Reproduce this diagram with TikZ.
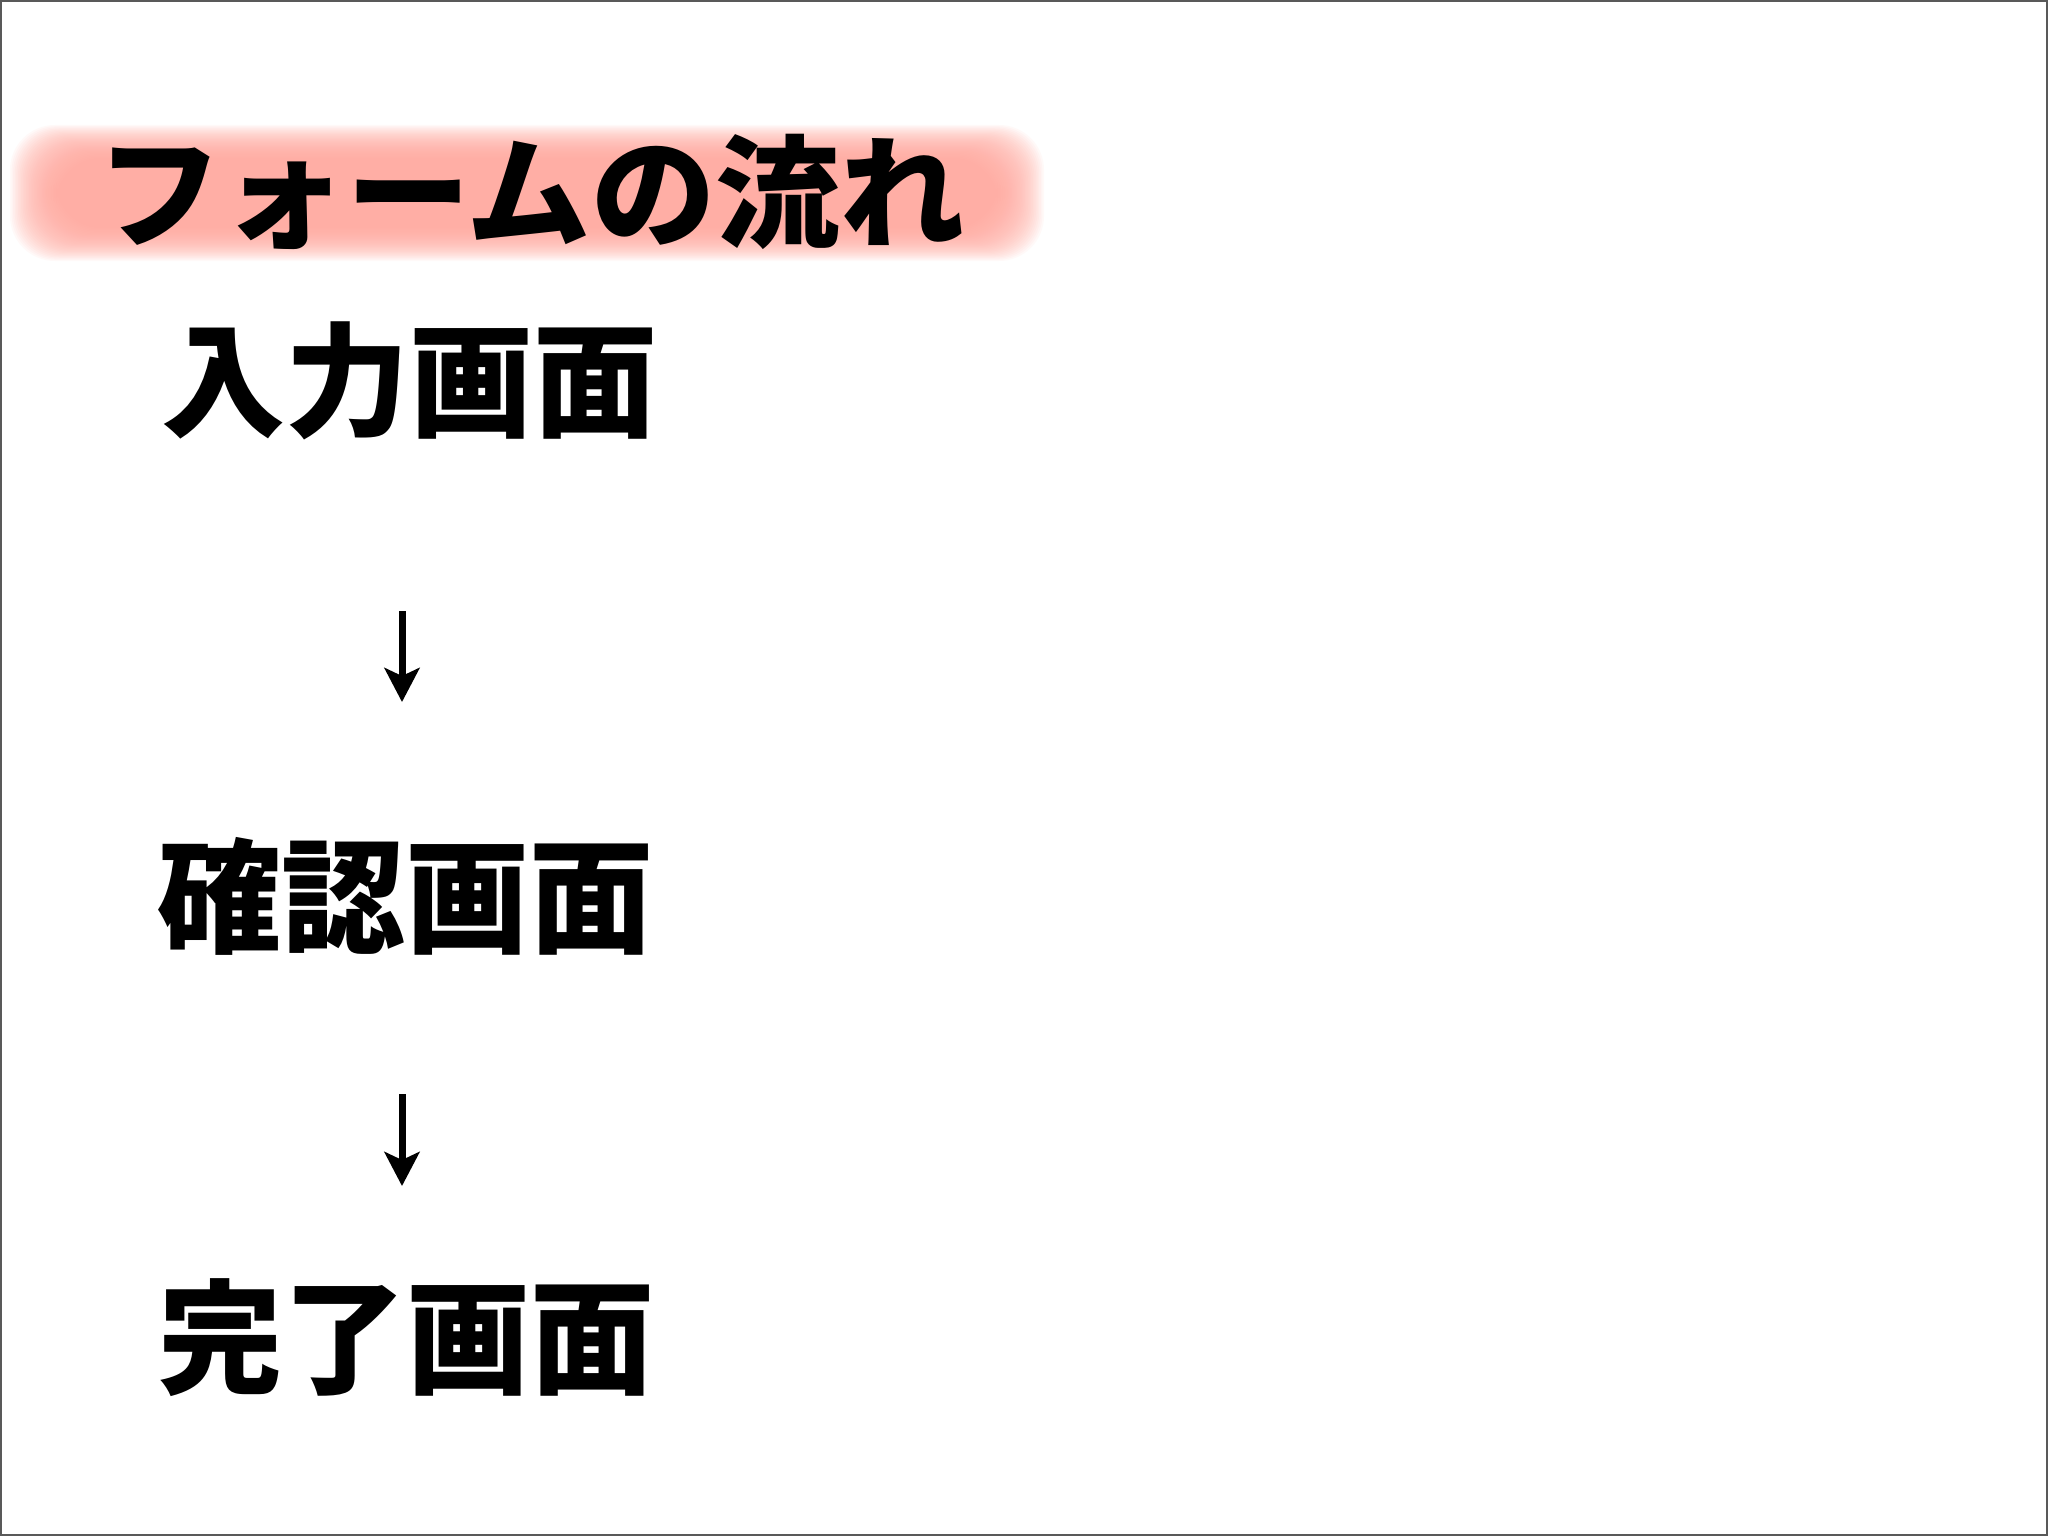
\documentclass[tikz,border=0pt]{standalone}
\usepackage{fontspec}
\newfontfamily\cjk{Noto Sans CJK JP Black}
\usetikzlibrary{arrows.meta}
\definecolor{glow}{RGB}{255,168,158}
\begin{document}
\begin{tikzpicture}[x=1pt,y=-1pt,
  screen/.style={font=\cjk\fontsize{124}{124}\selectfont, inner sep=0pt, anchor=center},
  titletext/.style={font=\cjk\fontsize{122}{122}\selectfont, inner sep=0pt, anchor=center},
  flow/.style={draw=black, line width=7pt, -{Stealth[length=34pt,width=35pt,inset=8pt]}}]
\useasboundingbox (0,0) rectangle (2048,1536);
\fill[white] (0,0) rectangle (2048,1536);
% pink glow band (soft edges)
\foreach \i in {0,...,29}{
  \fill[glow, opacity=0.068, rounded corners=45pt]
    ({10+1.6*\i},{125+1.15*\i}) rectangle ({1044-1.6*\i},{261-1.15*\i});
}
\node[titletext, xscale=1.02] (title) at (531,192) {フォームの流れ};
\node[screen] (input) at (409,381) {入力画面};
\node[screen] (confirm) at (405,896) {確認画面};
\node[screen] (done) at (406,1338) {完了画面};
\coordinate (a1s) at (402,611);
\coordinate (a1e) at (402,702);
\coordinate (a2s) at (402,1094);
\coordinate (a2e) at (402,1186);
\draw[flow] (a1s) -- (a1e);
\draw[flow] (a2s) -- (a2e);
\draw[gray!70!black, line width=2pt] (1,1) rectangle (2047,1535);
\end{tikzpicture}
\end{document}
